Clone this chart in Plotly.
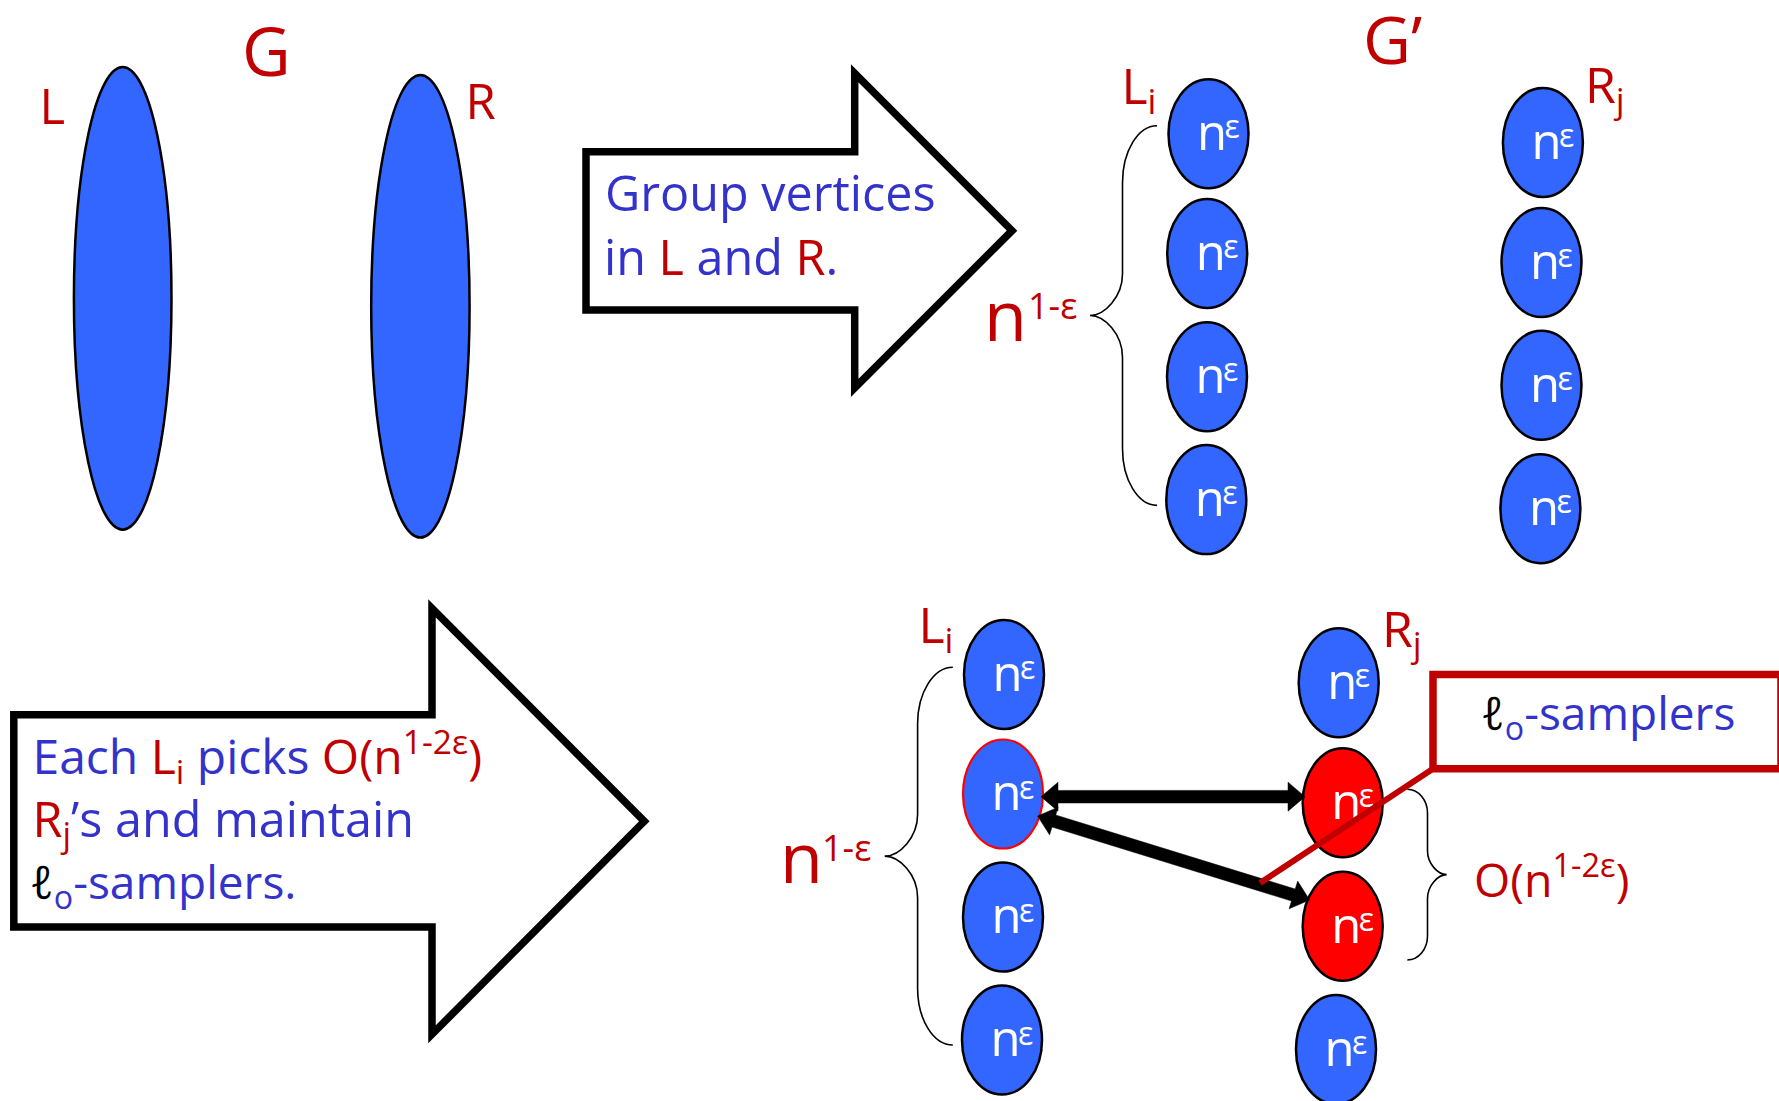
import math
import plotly.graph_objects as go

W, H = 1779, 1101

BLUE_FILL = "#3366FF"
RED_FILL = "#FF0000"
DARK_RED = "#C00000"
TEXT_BLUE = "#3333CC"
FONT = "Open Sans, Noto Sans, DejaVu Sans, sans-serif"

# ---------------- data ----------------
# Graph G: the two big vertex sets
big_set_names = ["L", "R"]
big_set_cx = [122.7, 420.4]
big_set_cy = [298.4, 306.3]
big_set_rx = [48.8, 49.2]
big_set_ry = [231.3, 231.3]

# Graph G': groups of n^eps vertices (top picture)
top_left_x = [1208.5, 1207.2, 1207.0, 1206.3]
top_left_y = [133.8, 253.4, 376.8, 499.6]
top_right_x = [1542.9, 1541.5, 1541.5, 1540.4]
top_right_y = [142.5, 262.5, 385.3, 508.7]

# bottom picture
bot_left_x = [1004.0, 1003.0, 1003.0, 1002.0]
bot_left_y = [674.5, 794.0, 917.0, 1040.0]
bot_left_outline = ["black", RED_FILL, "black", "black"]
bot_right_x = [1338.7, 1342.7, 1342.7, 1336.0]
bot_right_y = [682.8, 802.8, 926.2, 1049.5]
bot_right_fill = [BLUE_FILL, RED_FILL, RED_FILL, BLUE_FILL]

node_rx = 40.0
node_ry = 54.5
node_label = "n"
node_sup = "ε"

# edges picked by L_i: (left node index, right node index, y at left, y at right)
edge_from = [1, 1]
edge_to = [1, 2]
edge_y_from = [796.7, 816.0]
edge_y_to = [796.7, 900.0]

# big outline arrows
arrow_x_left = [586.0, 13.8]
arrow_x_notch = [854.7, 432.0]
arrow_x_tip = [1012.0, 644.3]
arrow_y_body_top = [151.8, 714.7]
arrow_y_body_bot = [310.0, 927.0]
arrow_y_head_top = [73.4, 608.3]
arrow_y_head_bot = [388.0, 1034.3]

# curly braces: end x, bar x, tip x, top y, bottom y, end-curve frac, tip-curve frac
brace_x_end = [1157.0, 952.8, 1407.3]
brace_x_bar = [1122.5, 917.6, 1427.5]
brace_x_tip = [1090.0, 884.7, 1446.7]
brace_y_top = [125.7, 667.3, 789.3]
brace_y_bot = [505.4, 1045.0, 960.0]
brace_a = [0.15, 0.15, 0.14]
brace_b = [0.11, 0.11, 0.14]

# callout box for l0-samplers
callout_box = dict(x0=1433.0, y0=674.5, x1=1781.0, y1=768.7)
callout_line_start = (1260.0, 883.0)

# text labels: (html text, left x, baseline y, size, color)
labels = [
    ("G", 242.0, 75.7, 67, DARK_RED),
    ("L", 39.5, 124.3, 49, DARK_RED),
    ("R", 465.5, 118.9, 49, DARK_RED),
    ("G’", 1363.0, 63.6, 66, DARK_RED),
    ("L<sub>i</sub>", 1121.5, 103.6, 50, DARK_RED),
    ("R<sub>j</sub>", 1585.0, 102.9, 50, DARK_RED),
    ("L<sub>i</sub>", 918.5, 642.7, 50, DARK_RED),
    ("R<sub>j</sub>", 1382.0, 646.5, 50, DARK_RED),
    ("Group vertices", 605.0, 211.4, 48.5, TEXT_BLUE),
    ("in <span style='color:%s'>L</span> and <span style='color:%s'>R</span>." % (DARK_RED, DARK_RED),
     604.0, 275.0, 48.5, TEXT_BLUE),
    ("n", 984.0, 341.0, 70, DARK_RED),
    ("1-ε", 1028.0, 318.5, 36, DARK_RED),
    ("n", 780.0, 883.3, 70, DARK_RED),
    ("1-ε", 822.0, 860.5, 36, DARK_RED),
    ("Each <span style='color:%s'>L<sub>i</sub></span> picks <span style='color:%s'>O(n<sup>1-2ε</sup>)</span>"
     % (DARK_RED, DARK_RED), 32.5, 774.0, 48, TEXT_BLUE),
    ("<span style='color:%s'>R<sub>j</sub></span>’s and maintain" % DARK_RED, 32.5, 837.3, 48.5, TEXT_BLUE),
    ("<span style='color:black'><i>ℓ</i></span><sub>o</sub>-samplers.", 30.0, 899.3, 46, TEXT_BLUE),
    ("<span style='color:black'><i>ℓ</i></span><sub>o</sub>-samplers", 1481.0, 730.0, 46, TEXT_BLUE),
    ("O(n<sup>1-2ε</sup>)", 1474.0, 896.7, 46.5, DARK_RED),
]

# node-label offsets relative to the node centre
n_dx, n_dy, n_size = -11.5, 16.3, 49
eps_dx, eps_dy, eps_size = 16.0, 4.5, 32

# ---------------- build figure ----------------
shapes = []


def ellipse(cx, cy, rx, ry, fill, line_color="black", lw=2.5, layer="below"):
    shapes.append(dict(type="circle", xref="x", yref="y",
                       x0=cx - rx, x1=cx + rx, y0=cy - ry, y1=cy + ry,
                       fillcolor=fill, line=dict(color=line_color, width=lw), layer=layer))


for cx, cy, rx, ry in zip(big_set_cx, big_set_cy, big_set_rx, big_set_ry):
    ellipse(cx, cy, rx, ry, BLUE_FILL)

node_centres = []
for xs, ys in [(top_left_x, top_left_y), (top_right_x, top_right_y)]:
    for cx, cy in zip(xs, ys):
        ellipse(cx, cy, node_rx, node_ry, BLUE_FILL)
        node_centres.append((cx, cy))
for cx, cy, oc in zip(bot_left_x, bot_left_y, bot_left_outline):
    ellipse(cx, cy, node_rx, node_ry, BLUE_FILL, line_color=oc, lw=2.5 if oc == "black" else 2.2)
    node_centres.append((cx, cy))
for cx, cy, fc in zip(bot_right_x, bot_right_y, bot_right_fill):
    ellipse(cx, cy, node_rx, node_ry, fc)
    node_centres.append((cx, cy))

# big outline arrows
for i in range(2):
    xl, xn, xt = arrow_x_left[i], arrow_x_notch[i], arrow_x_tip[i]
    bt, bb = arrow_y_body_top[i], arrow_y_body_bot[i]
    ht, hb = arrow_y_head_top[i], arrow_y_head_bot[i]
    ym = (ht + hb) / 2
    path = (f"M {xl},{bt} L {xn},{bt} L {xn},{ht} L {xt},{ym} L {xn},{hb} "
            f"L {xn},{bb} L {xl},{bb} Z")
    shapes.append(dict(type="path", xref="x", yref="y", path=path,
                       fillcolor="white", line=dict(color="black", width=7.5), layer="below"))


# braces
def brace_path(xe, xb, xt, y0, y1, fa, fb):
    span = y1 - y0
    a, b = fa * span, fb * span
    ym = (y0 + y1) / 2
    k = 0.55
    p = f"M {xe},{y0} "
    p += f"C {xb + (xe - xb) * (1 - k)},{y0} {xb},{y0 + a * (1 - k)} {xb},{y0 + a} "
    p += f"L {xb},{ym - b} "
    p += f"C {xb},{ym - b * (1 - k)} {xt + (xb - xt) * (1 - k)},{ym} {xt},{ym} "
    p += f"C {xt + (xb - xt) * (1 - k)},{ym} {xb},{ym + b * (1 - k)} {xb},{ym + b} "
    p += f"L {xb},{y1 - a} "
    p += f"C {xb},{y1 - a * (1 - k)} {xb + (xe - xb) * (1 - k)},{y1} {xe},{y1}"
    return p


for i in range(3):
    shapes.append(dict(type="path", xref="x", yref="y",
                       path=brace_path(brace_x_end[i], brace_x_bar[i], brace_x_tip[i],
                                       brace_y_top[i], brace_y_bot[i], brace_a[i], brace_b[i]),
                       line=dict(color="black", width=1.6), layer="above"))


# double-headed thick arrows between chosen groups
def ellipse_edge_x(cx, cy, y, side):
    t = max(0.0, 1 - ((y - cy) / node_ry) ** 2)
    return cx + side * node_rx * math.sqrt(t)


def double_arrow(x0, y0, x1, y1, shaft=6.3, hl=17.0, hw=14.5):
    L = math.hypot(x1 - x0, y1 - y0)
    ux, uy = (x1 - x0) / L, (y1 - y0) / L
    nx, ny = -uy, ux
    pts = [
        (x0, y0),
        (x0 + hl * ux + hw * nx, y0 + hl * uy + hw * ny),
        (x0 + hl * ux + shaft * nx, y0 + hl * uy + shaft * ny),
        (x1 - hl * ux + shaft * nx, y1 - hl * uy + shaft * ny),
        (x1 - hl * ux + hw * nx, y1 - hl * uy + hw * ny),
        (x1, y1),
        (x1 - hl * ux - hw * nx, y1 - hl * uy - hw * ny),
        (x1 - hl * ux - shaft * nx, y1 - hl * uy - shaft * ny),
        (x0 + hl * ux - shaft * nx, y0 + hl * uy - shaft * ny),
        (x0 + hl * ux - hw * nx, y0 + hl * uy - hw * ny),
    ]
    return "M " + " L ".join(f"{x:.1f},{y:.1f}" for x, y in pts) + " Z"


inset = 2.0
for fi, ti, yf, yt in zip(edge_from, edge_to, edge_y_from, edge_y_to):
    xf = ellipse_edge_x(bot_left_x[fi], bot_left_y[fi], yf, +1) - inset
    xt = ellipse_edge_x(bot_right_x[ti], bot_right_y[ti], yt, -1) + inset
    shapes.append(dict(type="path", xref="x", yref="y", path=double_arrow(xf, yf, xt, yt),
                       fillcolor="black", line=dict(color="black", width=0.5), layer="above"))

# callout box and its pointer line
shapes.append(dict(type="rect", xref="x", yref="y", **callout_box,
                   fillcolor="rgba(0,0,0,0)", line=dict(color=DARK_RED, width=7.5), layer="above"))
shapes.append(dict(type="line", xref="x", yref="y",
                   x0=callout_line_start[0], y0=callout_line_start[1],
                   x1=callout_box["x0"], y1=callout_box["y1"],
                   line=dict(color=DARK_RED, width=6), layer="above"))

# ---------------- text ----------------
tx, ty, tt, ts, tc = [], [], [], [], []
for text, x, base, size, color in labels:
    tx.append(x)
    ty.append(base - 0.25 * size)
    tt.append(text)
    ts.append(size)
    tc.append(color)

for cx, cy in node_centres:
    tx.append(cx + n_dx)
    ty.append(cy + n_dy - 0.25 * n_size)
    tt.append(node_label)
    ts.append(n_size)
    tc.append("white")
    tx.append(cx + eps_dx)
    ty.append(cy + eps_dy - 0.25 * eps_size)
    tt.append(node_sup)
    ts.append(eps_size)
    tc.append("white")

fig = go.Figure()
fig.add_trace(go.Scatter(x=tx, y=ty, text=tt, mode="text", textposition="middle right",
                         textfont=dict(family=FONT, size=ts, color=tc),
                         hoverinfo="skip", showlegend=False, cliponaxis=False))

fig.update_layout(
    width=W, height=H, autosize=False,
    margin=dict(l=0, r=0, t=0, b=0, pad=0),
    paper_bgcolor="white", plot_bgcolor="white",
    xaxis=dict(range=[0, W], visible=False, showgrid=False, zeroline=False, fixedrange=True),
    yaxis=dict(range=[H, 0], visible=False, showgrid=False, zeroline=False, fixedrange=True),
    shapes=shapes,
    showlegend=False,
)

fig.write_html("out.html", include_plotlyjs=True, full_html=True,
               config={"displayModeBar": False, "staticPlot": True},
               post_script="document.body.style.margin='0';document.body.style.overflow='hidden';")
